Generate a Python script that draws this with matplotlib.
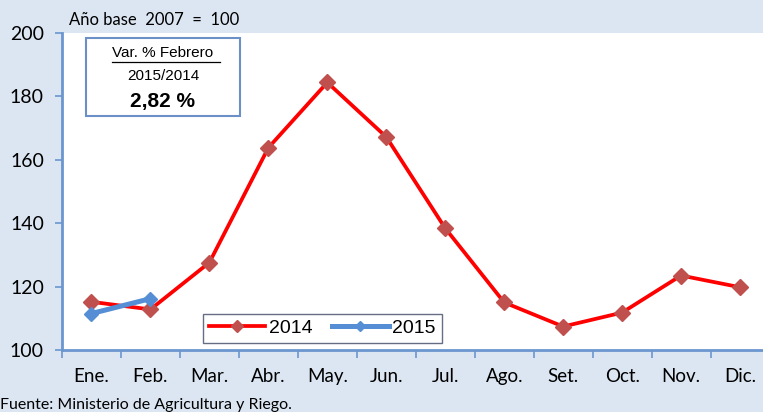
import matplotlib
matplotlib.use("Agg")
import matplotlib.pyplot as plt
from matplotlib.patches import Rectangle

months = ["Ene.", "Feb.", "Mar.", "Abr.", "May.", "Jun.", "Jul.", "Ago.", "Set.", "Oct.", "Nov.", "Dic."]
v2014 = [115.2, 112.8, 127.6, 163.8, 184.4, 167.2, 138.4, 115.0, 107.4, 111.8, 123.5, 119.8]
v2015 = [111.5, 116.2]
yticks = [100, 120, 140, 160, 180, 200]

bg = "#dce6f2"
axblue = "#6b96d0"

fig = plt.figure(figsize=(7.63, 4.12), dpi=100, facecolor=bg)
ax = fig.add_axes([62/763, 1-350/412, 707.5/763, 317/412])
ax.set_facecolor("white")

x = list(range(len(months)))
ax.plot(x, v2014, color="#ff0000", lw=2.7, marker="D", ms=8, mfc="#c0504d", mec="#c0504d", label="2014", zorder=3)
ax.plot(x[:len(v2015)], v2015, color="#558ed5", lw=3.6, marker="D", ms=7, mfc="#558ed5", mec="#558ed5", label="2015", zorder=4)

ax.set_xlim(-0.5, 11.5)
ax.set_ylim(100, 200)
ax.set_yticks(yticks)
ax.set_yticklabels([str(v) for v in yticks], fontsize=14, family="Lato")
ax.set_xticks(x)
ax.set_xticklabels(months, fontsize=13.5, family="Lato")
ax.set_xticks([i - 0.5 for i in range(13)], minor=True)
ax.tick_params(axis="x", which="major", length=0, pad=13)
ax.tick_params(axis="x", which="minor", length=6, color=axblue, width=1.2)
ax.tick_params(axis="y", length=5, color=axblue, width=1.2, pad=8)
for s in ["top", "right"]:
    ax.spines[s].set_visible(False)
ax.spines["left"].set_color(axblue)
ax.spines["bottom"].set_color(axblue)
ax.spines["left"].set_linewidth(2)
ax.spines["bottom"].set_linewidth(2)

fig.text(69/763, 1-20/412, "Año base  2007  =  100", fontsize=12, family="Lato", va="center", ha="left")

# annotation box
fig.patches.append(Rectangle((86/763, 1-116/412), 154/763, 78/412, transform=fig.transFigure,
                             facecolor="white", edgecolor="#6b8fc7", lw=1.5, zorder=5))
fig.text(163/763, 1-53/412, "Var. % Febrero", fontsize=11, family="Liberation Sans", ha="center", va="center", zorder=6)
fig.lines.append(plt.Line2D([112/763, 220/763], [1-61.5/412, 1-61.5/412], transform=fig.transFigure, color="black", lw=0.9, zorder=6))
fig.text(163/763, 1-76/412, "2015/2014", fontsize=11, family="Liberation Sans", ha="center", va="center", zorder=6)
fig.text(163/763, 1-101/412, "2,82 %", fontsize=15, weight="bold", family="Liberation Sans", ha="center", va="center", zorder=6)

leg = ax.legend(loc="lower left", bbox_to_anchor=(141/707.5, 7/317), ncol=2, frameon=True, fancybox=False,
                prop={"family": "Liberation Sans", "size": 14}, handlelength=2.9, columnspacing=1.0,
                handletextpad=0.2, borderpad=0.3, borderaxespad=0, markerscale=0.8)
leg.get_frame().set_edgecolor("#404a66")
leg.get_frame().set_linewidth(1.0)

fig.text(0/763, 1-405/412, "Fuente: Ministerio de Agricultura y Riego.", fontsize=11.5, family="Lato", ha="left", va="center")

fig.savefig("out.png", dpi=100, facecolor=bg)
